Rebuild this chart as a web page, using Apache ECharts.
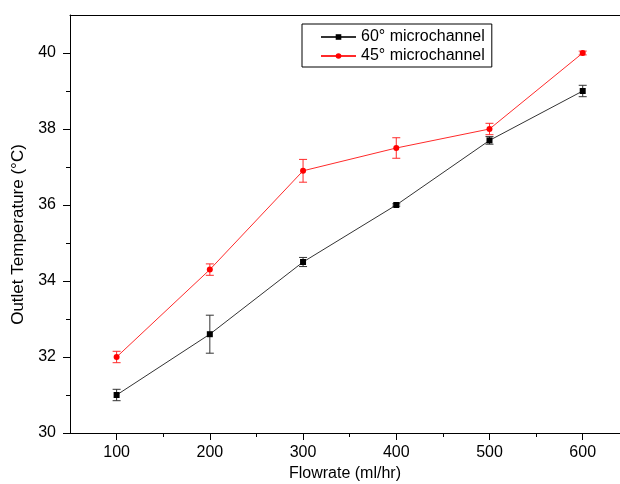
<!DOCTYPE html>
<html>
<head>
<meta charset="utf-8">
<script src="https://cdn.jsdelivr.net/npm/echarts@6/dist/echarts.min.js"></script>
<style>
  html, body { margin: 0; padding: 0; background: #fff; }
  #chart { width: 620px; height: 484px; }
</style>
</head>
<body>
<div id="chart"></div>
<script>
// data
const flowrate = [100, 200, 300, 400, 500, 600];
const temp60 = [31.0, 32.6, 34.5, 36.0, 37.7, 39.0];
const err60 = [0.15, 0.5, 0.12, 0.03, 0.1, 0.15];
const temp45 = [32.0, 34.3, 36.9, 37.5, 38.0, 40.0];
const err45 = [0.15, 0.15, 0.3, 0.27, 0.15, 0.05];

const xMajor = [100, 200, 300, 400, 500, 600];
const xMinor = [150, 250, 350, 450, 550];
const yMajor = [30, 32, 34, 36, 38, 40];
const yMinor = [31, 33, 35, 37, 39];

const font = 'Arial, "Liberation Sans", sans-serif';

// [x, y] pairs for the lines, [x, low, high] for the bars
const pts = (ys) => flowrate.map((x, i) => [x, ys[i]]);
const bars = (ys, es) => flowrate.map((x, i) => [x, ys[i] - es[i], ys[i] + es[i]]);

function errorBars(color) {
  return function (params, api) {
    const x = api.value(0);
    const lo = api.coord([x, api.value(1)]);
    const hi = api.coord([x, api.value(2)]);
    const w = 4;
    const st = { stroke: color, lineWidth: 1 };
    return {
      type: 'group',
      children: [
        { type: 'line', shape: { x1: lo[0], y1: lo[1], x2: hi[0], y2: hi[1] }, style: st },
        { type: 'line', shape: { x1: lo[0] - w, y1: lo[1], x2: lo[0] + w, y2: lo[1] }, style: st },
        { type: 'line', shape: { x1: hi[0] - w, y1: hi[1], x2: hi[0] + w, y2: hi[1] }, style: st }
      ]
    };
  };
}

const axisLine = { show: true, lineStyle: { color: '#000', width: 1 } };

const chart = echarts.init(document.getElementById('chart'));
chart.setOption({
  animation: false,
  textStyle: { fontFamily: font },
  grid: { left: 70, right: 0, top: 15, bottom: 51, outerBoundsMode: 'none' },
  legend: {
    data: ['60° microchannel', '45° microchannel'],
    orient: 'vertical',
    left: 302,
    top: 24,
    padding: [5, 7, 3, 18],
    itemWidth: 35,
    itemHeight: 7,
    itemGap: 3,
    borderColor: '#000',
    borderWidth: 1,
    textStyle: { fontSize: 16, color: '#000', fontFamily: font }
  },
  xAxis: [
    {
      type: 'value', min: 50, max: 640,
      name: 'Flowrate (ml/hr)', nameLocation: 'middle', nameGap: 33,
      nameTextStyle: { fontSize: 16, color: '#000' },
      axisLine: axisLine,
      axisTick: { show: true, inside: false, length: 7, customValues: xMajor, lineStyle: { color: '#000' } },
      axisLabel: { customValues: xMajor, fontSize: 16, color: '#000', margin: 12 },
      splitLine: { show: false }
    },
    {
      type: 'value', min: 50, max: 640, position: 'bottom',
      axisLine: { show: false },
      axisTick: { show: true, length: 4, customValues: xMinor, lineStyle: { color: '#000' } },
      axisLabel: { show: false },
      splitLine: { show: false }
    },
    {
      type: 'value', min: 50, max: 640, position: 'top',
      axisLine: axisLine,
      axisTick: { show: false }, axisLabel: { show: false }, splitLine: { show: false }
    }
  ],
  yAxis: [
    {
      type: 'value', min: 30, max: 41,
      name: 'Outlet Temperature (°C)', nameLocation: 'middle', nameGap: 41,
      nameTextStyle: { fontSize: 17, color: '#000', padding: [0, 21, 0, 0] },
      axisLine: axisLine,
      axisTick: { show: true, length: 7, customValues: yMajor, lineStyle: { color: '#000' } },
      axisLabel: { customValues: yMajor, fontSize: 16, color: '#000', margin: 14 },
      splitLine: { show: false }
    },
    {
      type: 'value', min: 30, max: 41, position: 'left',
      axisLine: { show: false },
      axisTick: { show: true, length: 4, customValues: yMinor, lineStyle: { color: '#000' } },
      axisLabel: { show: false },
      splitLine: { show: false }
    }
  ],
  series: [
    {
      type: 'custom', name: 'err60', renderItem: errorBars('#333'),
      data: bars(temp60, err60), encode: { x: 0, y: [1, 2] }, z: 1, silent: true
    },
    {
      type: 'custom', name: 'err45', renderItem: errorBars('#ff2a2a'),
      data: bars(temp45, err45), encode: { x: 0, y: [1, 2] }, z: 1, silent: true
    },
    {
      type: 'line', name: '60° microchannel', data: pts(temp60),
      symbol: 'rect', symbolSize: 6, z: 3,
      lineStyle: { color: '#333', width: 1 },
      itemStyle: { color: '#000' }
    },
    {
      type: 'line', name: '45° microchannel', data: pts(temp45),
      symbol: 'circle', symbolSize: 6, z: 3,
      lineStyle: { color: '#ff2a2a', width: 1 },
      itemStyle: { color: '#ff0000' }
    }
  ]
});
</script>
</body>
</html>
